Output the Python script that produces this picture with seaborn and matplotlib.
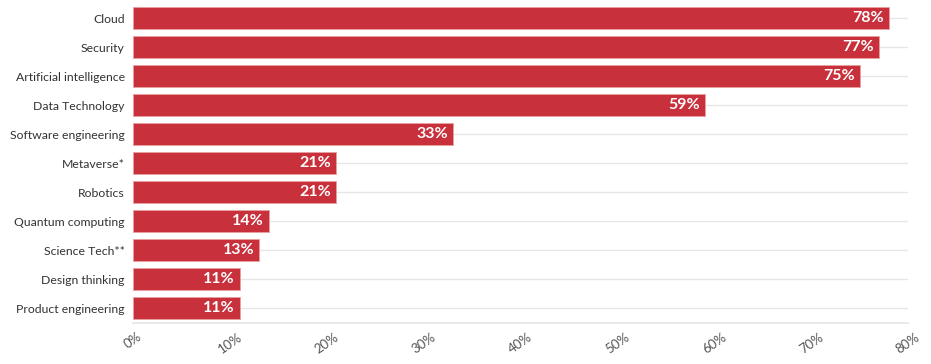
import numpy as np
import pandas as pd
import seaborn as sns
import matplotlib.pyplot as plt

# chart data
categories = ["Cloud", "Security", "Artificial intelligence", "Data Technology",
              "Software engineering", "Metaverse*", "Robotics", "Quantum computing",
              "Science Tech**", "Design thinking", "Product engineering"]
shares = [78, 77, 75, 59, 33, 21, 21, 14, 13, 11, 11]
x_ticks = [0, 10, 20, 30, 40, 50, 60, 70, 80]
x_tick_labels = [f"{t}%" for t in x_ticks]

df = pd.DataFrame({"topic": categories, "share": shares})

sns.set_theme(style="white")
plt.rcParams["font.family"] = ["Lato", "DejaVu Sans"]

fig = plt.figure(figsize=(9.31, 3.64), dpi=100)
ax = fig.add_axes([0.1429, 0.114, 0.8324, 0.876])

# light horizontal guides at each category
for i in range(len(categories)):
    ax.axhline(i, color="#e6e6e6", lw=1, zorder=0)

sns.barplot(data=df, x="share", y="topic", color="#c8303b", saturation=1,
            width=0.76, ax=ax, zorder=2, edgecolor="#e8a0a0", linewidth=0.6)

for i, v in enumerate(shares):
    ax.text(v - 0.5, i, f"{v}%", ha="right", va="center", color="white",
            fontsize=11.5, fontweight="bold", zorder=3)

ax.set_xlim(0, 80)
ax.set_ylim(len(categories) - 0.5, -0.5)
ax.set_xticks(x_ticks)
ax.set_xticklabels(x_tick_labels, rotation=35, ha="center", color="#555555", fontsize=9.5)
ax.tick_params(axis="y", labelsize=8.8, labelcolor="#333333", length=0, pad=6)
ax.tick_params(axis="x", length=0, pad=6)
ax.set_xlabel("")
ax.set_ylabel("")
for s in ["top", "right", "left"]:
    ax.spines[s].set_visible(False)
ax.spines["bottom"].set_color("#e6e6e6")

fig.savefig("out.png", dpi=100)
